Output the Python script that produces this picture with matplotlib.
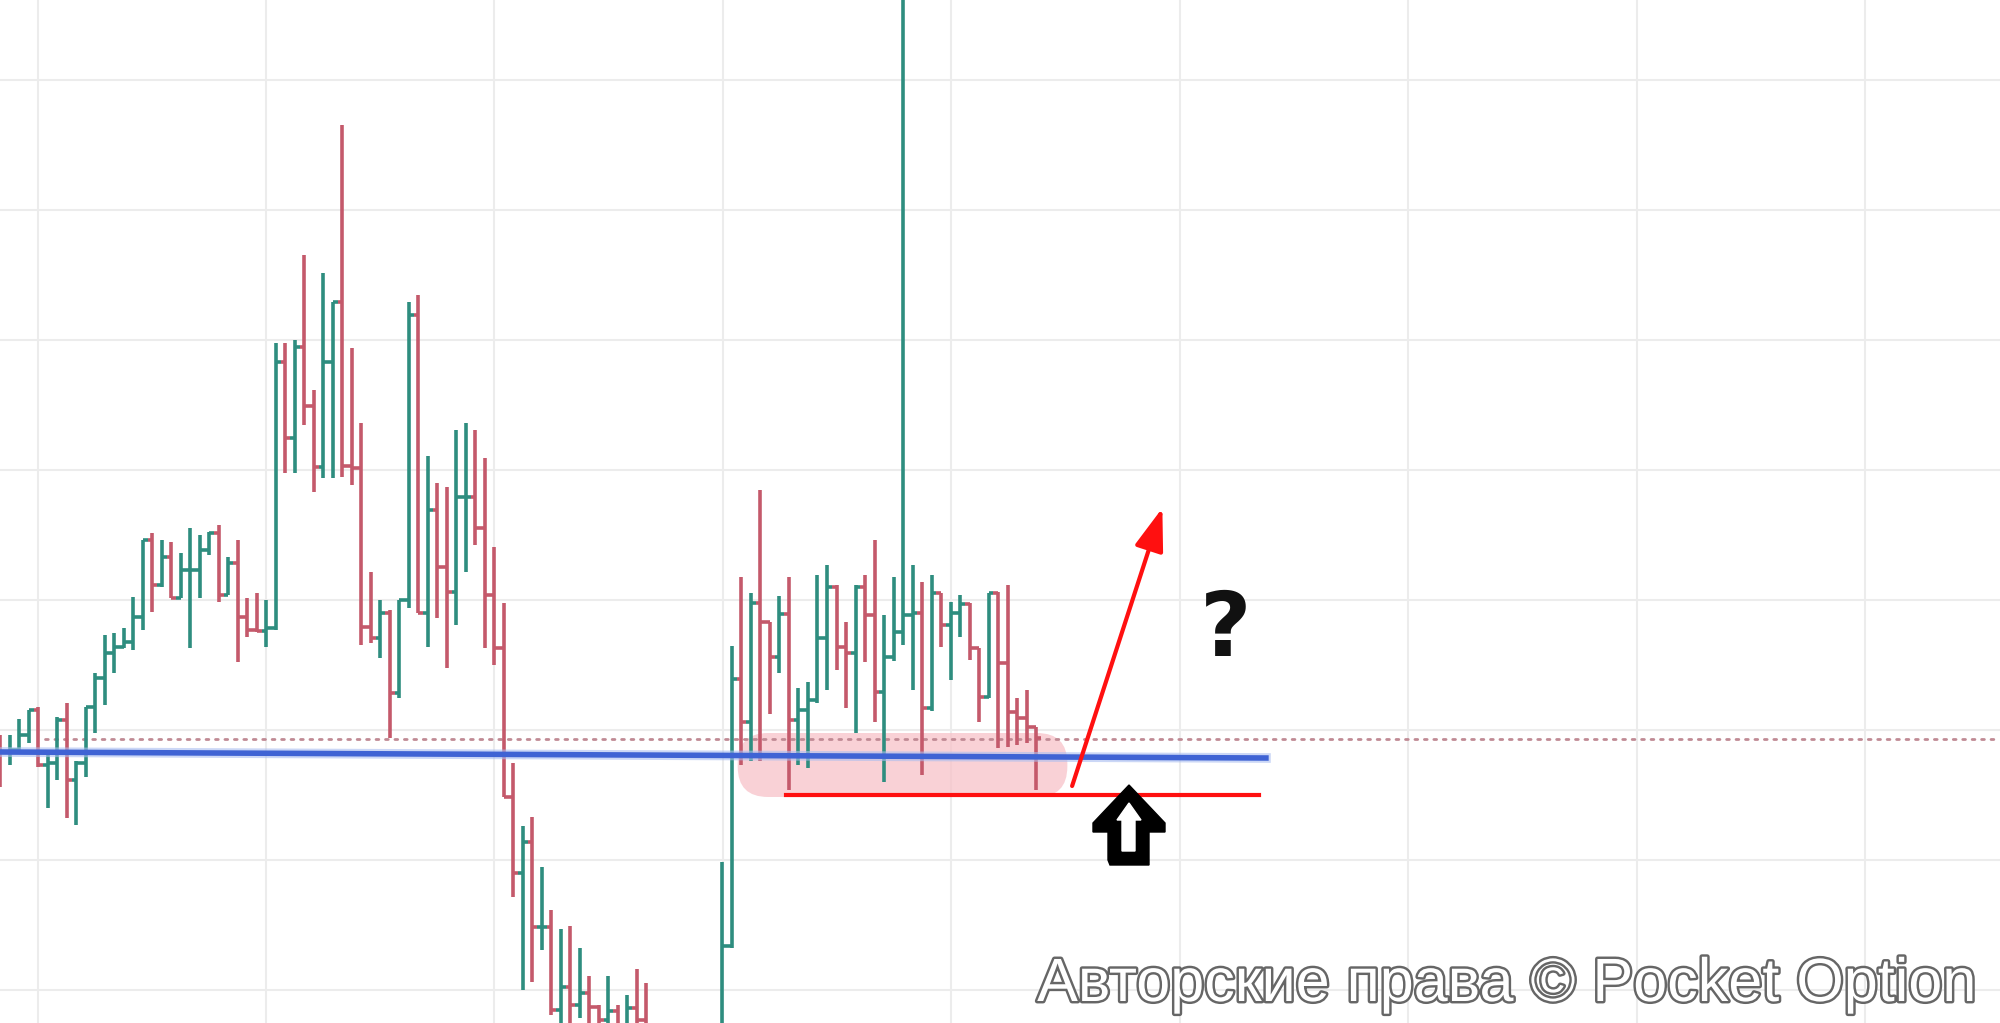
import numpy as np
import matplotlib
matplotlib.use("Agg")
import matplotlib.pyplot as plt
import matplotlib.patheffects as pe
from matplotlib.collections import LineCollection
from matplotlib.patches import FancyBboxPatch, FancyArrowPatch, Polygon
from matplotlib.ticker import MultipleLocator

# OHLC bars, in chart points (None = bar lies below the visible area)
opens = [286, 271, 273, 288, 313, 258, 260, 303, 243, 260,
         316, 345, 370, 376, 381, 406, 483, 438, 466, 425,
         453, 453, 473, 490, 428, 460, 406, 393, 392, 395,
         661, 585, 676, 617, 556, 661, 721, 557, 555, 396,
         385, 410, 330, 423, 708, 410, 513, 456, 431, 526,
         526, 495, 428, 375, 226, 150, 181, 96, 96, 13,
         36, 18, 30, 16, 3, 12, -5, 15, 3, None,
         None, None, None, None, None, None, -30, 77, 344, 301,
         420, 401, 366, 409, 303, 313, 323, 385, 436, 376,
         370, 436, 408, 331, 366, 391, 408, 410, 315, 430,
         398, 410, 419, 375, 326, 430, 360, 311, 305, 296]
highs = [288, 288, 304, 313, 316, 270, 306, 320, 262, 316,
         350, 388, 390, 395, 426, 483, 490, 483, 481, 470,
         495, 488, 491, 498, 466, 483, 425, 430, 423, 680,
         680, 683, 768, 633, 750, 721, 898, 675, 600, 451,
         423, 413, 423, 721, 728, 567, 540, 536, 593, 600,
         593, 565, 476, 420, 260, 197, 206, 156, 113, 94,
         97, 75, 47, 18, 47, 18, 28, 54, 40, None,
         None, None, None, None, None, None, 161, 377, 446, 430,
         533, 401, 427, 446, 335, 341, 448, 458, 438, 401,
         438, 448, 483, 408, 446, 1100, 458, 441, 448, 430,
         421, 428, 420, 375, 430, 431, 438, 325, 333, 296]
lows = [236, 258, 270, 280, 256, 215, 243, 205, 198, 246,
        290, 318, 350, 375, 373, 393, 411, 436, 425, 425,
        375, 425, 468, 421, 428, 361, 386, 391, 376, 393,
        550, 550, 598, 531, 545, 545, 546, 538, 378, 380,
        365, 285, 325, 415, 410, 376, 405, 355, 398, 451,
        478, 375, 358, 226, 126, 33, 41, 73, 8, -15,
        -20, 5, -25, -30, -20, -30, -20, -20, -30, None,
        None, None, None, None, None, None, -60, 75, 258, 262,
        262, 309, 350, 233, 258, 255, 320, 333, 353, 315,
        290, 361, 301, 241, 362, 378, 333, 248, 312, 376,
        343, 386, 363, 301, 325, 275, 276, 278, 280, 233]
closes = [271, 273, 288, 313, 258, 260, 303, 243, 260, 316,
          345, 370, 376, 381, 406, 483, 438, 466, 425, 453,
          453, 473, 490, 428, 460, 406, 393, 392, 395, 661,
          585, 676, 617, 556, 661, 721, 557, 555, 396, 385,
          410, 330, 423, 708, 410, 513, 456, 431, 526, 526,
          495, 428, 375, 226, 150, 181, 96, 96, 13, 36,
          18, 30, 16, 3, 12, -5, 15, 3, -10, None,
          None, None, None, None, None, None, 77, 344, 301, 420,
          401, 366, 409, 303, 313, 323, 385, 436, 376, 370,
          436, 408, 331, 366, 391, 408, 410, 315, 430, 398,
          410, 419, 375, 326, 430, 360, 311, 305, 296, 285]

dotted_level = 284           # thin dotted price line
blue_level = (271, 265)      # blue support line, start / end
red_level = 228              # red line under the range
watermark = "Авторские права © Pocket Option"

o = np.array(opens, dtype=float)
h = np.array(highs, dtype=float)
l = np.array(lows, dtype=float)
c = np.array(closes, dtype=float)

green = "#2e8d7f"
red = "#c4596b"

fig = plt.figure(figsize=(20, 10.23), dpi=100)
ax = fig.add_axes([0, 0, 1, 1])
ax.set_xlim(-0.05, 210.47)
ax.set_ylim(0, 1023)
for s in ax.spines.values():
    s.set_visible(False)
ax.xaxis.set_major_locator(MultipleLocator(24.05, offset=3.9))
ax.yaxis.set_major_locator(MultipleLocator(130, offset=33))
ax.tick_params(length=0, labelleft=False, labelbottom=False)
ax.grid(True, color="#ececec", lw=1.5)
ax.set_axisbelow(True)

# pink zone
zone = FancyBboxPatch((77.6, 226), 34.7, 64, boxstyle="round,pad=0,rounding_size=3.2",
                      mutation_aspect=9.5, fc="#f7c2c9", ec="none", alpha=0.75, zorder=1)
ax.add_patch(zone)

# ohlc bars
segs, cols = [], []
for i in range(len(o)):
    if np.isnan(o[i]):
        continue
    col = green if c[i] >= o[i] else red
    segs += [[(i, l[i]), (i, h[i])], [(i - 0.5, o[i]), (i, o[i])], [(i, c[i]), (i + 0.5, c[i])]]
    cols += [col] * 3
ax.add_collection(LineCollection(segs, colors=cols, linewidths=2.6, capstyle="butt", zorder=3))

# lines
ax.plot([4.7, 210.5], [dotted_level] * 2, color="#c08a94", lw=2, dashes=(1, 2.4),
        dash_capstyle="round", zorder=2)
ax.plot([0, 133.2], blue_level, color="#a9bdf0", lw=7, alpha=0.6, zorder=4)
ax.plot([0, 133.2], blue_level, color="#3f63d4", lw=4, zorder=4)
ax.plot([82.7, 132.5], [red_level] * 2, color="#ff1010", lw=3, zorder=6)

arrow = FancyArrowPatch((112.8, 237), (122.3, 515), arrowstyle="-|>,head_length=1.05,head_width=0.36",
                        mutation_scale=25, color="#ff1010", lw=3, shrinkA=0, shrinkB=0, zorder=6)
ax.add_patch(arrow)

ax.text(129.0, 392, "?", fontsize=64, fontweight="bold", ha="center", va="center", color="#111111", zorder=6)

# hollow black up arrow, drawn in pixels
outer = [(1129, 785), (1165, 823), (1165, 832), (1149, 832), (1149, 865), (1110, 865),
         (1108, 860), (1108, 832), (1093, 832), (1093, 823)]
inner = [(1129, 803), (1141, 820), (1135, 820), (1135, 851), (1122, 851), (1122, 820), (1117, 820)]
for pts, fc in [(outer, "black"), (inner, "white")]:
    xy = [(x / 100, (1023 - y) / 100) for x, y in pts]
    fig.patches.append(Polygon(xy, closed=True, fc=fc, ec=fc, lw=1,
                               transform=fig.dpi_scale_trans, zorder=5))

fig.text(0.9885, 0.0215, watermark, ha="right", va="baseline", fontsize=44,
         family="Liberation Sans", color="white",
         path_effects=[pe.withStroke(linewidth=3.5, foreground="#666666")])

fig.savefig("out.png", dpi=100, facecolor="white")
